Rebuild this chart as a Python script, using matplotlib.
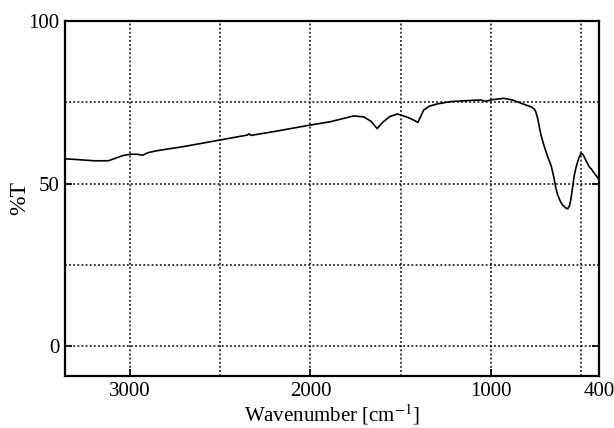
import matplotlib
matplotlib.use('Agg')
import matplotlib.pyplot as plt

plt.rcParams['font.family'] = ['Liberation Serif', 'DejaVu Serif']
plt.rcParams['mathtext.fontset'] = 'stix'

# spectrum
wavenumber = [3360, 3300, 3200, 3120, 3080, 3040, 3000, 2960, 2930, 2900, 2850,
              2700, 2500, 2350, 2340, 2330, 2200, 2000, 1890, 1760, 1705, 1665,
              1630, 1600, 1560, 1518, 1463, 1430, 1404, 1372, 1340, 1296, 1222,
              1100, 1055, 1030, 990, 928, 880, 833, 778, 760, 750, 740, 730, 722,
              710, 700, 685, 665, 650, 640, 630, 615, 602, 585, 574, 563, 555,
              546, 538, 528, 518, 508, 500, 490, 482, 470, 455, 440, 427, 413, 400]
transmittance = [57.6, 57.4, 57.0, 57.0, 57.8, 58.6, 59.0, 59.0, 58.7, 59.5, 60.1,
                 61.4, 63.4, 64.9, 65.3, 64.8, 66.0, 68.0, 69.0, 70.8, 70.5, 69.2,
                 66.9, 68.8, 70.6, 71.4, 70.4, 69.6, 68.8, 72.6, 73.8, 74.5, 75.2,
                 75.6, 75.7, 75.3, 75.8, 76.2, 75.7, 74.7, 73.6, 73.0, 72.0, 70.0,
                 67.2, 65.0, 62.6, 60.8, 58.3, 55.4, 51.8, 48.8, 46.6, 44.6, 43.4,
                 42.5, 42.2, 43.2, 45.5, 49.0, 52.3, 54.8, 56.8, 58.4, 59.3, 59.0,
                 58.2, 56.8, 55.2, 54.3, 53.2, 52.2, 51.2]

x_grid = [3000, 2500, 2000, 1500, 1000, 500]
y_grid = [0, 25, 50, 75]
x_labels = {3000: '3000', 2000: '2000', 1000: '1000', 400: '400'}
y_labels = {0: '0', 50: '50', 100: '100'}

fig = plt.figure(figsize=(6.14, 4.28), dpi=100)
ax = fig.add_axes([0.106, 0.1215, 0.8696, 0.8295])

ax.plot(wavenumber, transmittance, color='black', linewidth=1.2)

for xv in x_grid:
    ax.axvline(xv, color='black', linestyle=(0, (1.2, 1.5)), linewidth=1.1, zorder=0)
for yv in y_grid:
    ax.axhline(yv, color='black', linestyle=(0, (1.2, 1.5)), linewidth=1.1, zorder=0)

ax.set_xlim(3360, 400)
ax.set_ylim(-9.2, 100)

ax.set_xticks(list(x_labels.keys()))
ax.set_xticklabels(list(x_labels.values()), fontsize=15)
ax.set_yticks(list(y_labels.keys()))
ax.set_yticklabels(list(y_labels.values()), fontsize=15)
ax.tick_params(direction='in', length=5, width=1.2, top=False, right=True, pad=4)

for s in ax.spines.values():
    s.set_linewidth(1.6)

ax.set_xlabel('Wavenumber [cm$^{-1}$]', fontsize=15, labelpad=1)
ax.set_ylabel('%T', fontsize=17, labelpad=-1)

fig.savefig('out.png', dpi=100)
